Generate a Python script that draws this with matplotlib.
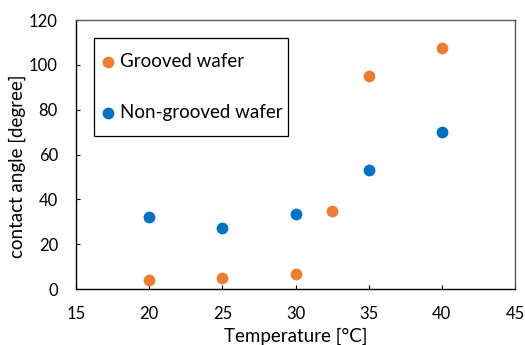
import matplotlib
matplotlib.use("Agg")
import matplotlib.pyplot as plt
from matplotlib.patches import Rectangle

plt.rcParams['font.family'] = ['Lato', 'DejaVu Sans']

grooved_x = [20, 25, 30, 32.5, 35, 40]
grooved_y = [4, 5, 6.5, 35, 95, 107.5]
nongrooved_x = [20, 25, 30, 35, 40]
nongrooved_y = [32, 27, 33.5, 53, 70]

xticks = [15, 20, 25, 30, 35, 40, 45]
yticks = [0, 20, 40, 60, 80, 100, 120]

fig = plt.figure(figsize=(5.25, 3.45), dpi=100)
ax = fig.add_axes([0.1448, 0.1623, 0.8362, 0.7797])

ax.scatter(grooved_x, grooved_y, s=72, color='#ED7D31', label='Grooved wafer', zorder=3, linewidths=0)
ax.scatter(nongrooved_x, nongrooved_y, s=72, color='#0070C0', label='Non-grooved wafer', zorder=3, linewidths=0)

ax.set_xlim(15, 45)
ax.set_ylim(0, 120)
ax.set_xticks(xticks)
ax.set_yticks(yticks)
ax.tick_params(direction='in', length=3, labelsize=12, colors='black', width=0.8)
ax.tick_params(axis='x', pad=12)
ax.tick_params(axis='y', pad=13)

for side in ['top', 'right']:
    ax.spines[side].set_color('#595959')
    ax.spines[side].set_linewidth(1.0)
for side in ['left', 'bottom']:
    ax.spines[side].set_color('black')
    ax.spines[side].set_linewidth(1.0)

ax.set_xlabel('Temperature [°C]', fontsize=13.5, labelpad=4)
ax.set_ylabel('contact angle [degree]', fontsize=13.5)
ax.yaxis.set_label_coords(-0.113, 0.4556)

leg = ax.legend(loc='upper left', bbox_to_anchor=(0.052, 0.876), fontsize=13.5,
                frameon=False, handletextpad=0.12, labelspacing=1.78, borderpad=0.0,
                handlelength=1.0, borderaxespad=0)
ax.add_patch(Rectangle((0.041, 0.5704), 0.443, 0.3629, transform=ax.transAxes,
                       fill=False, edgecolor='black', linewidth=0.9, zorder=4))

fig.savefig('out.png', dpi=100)
